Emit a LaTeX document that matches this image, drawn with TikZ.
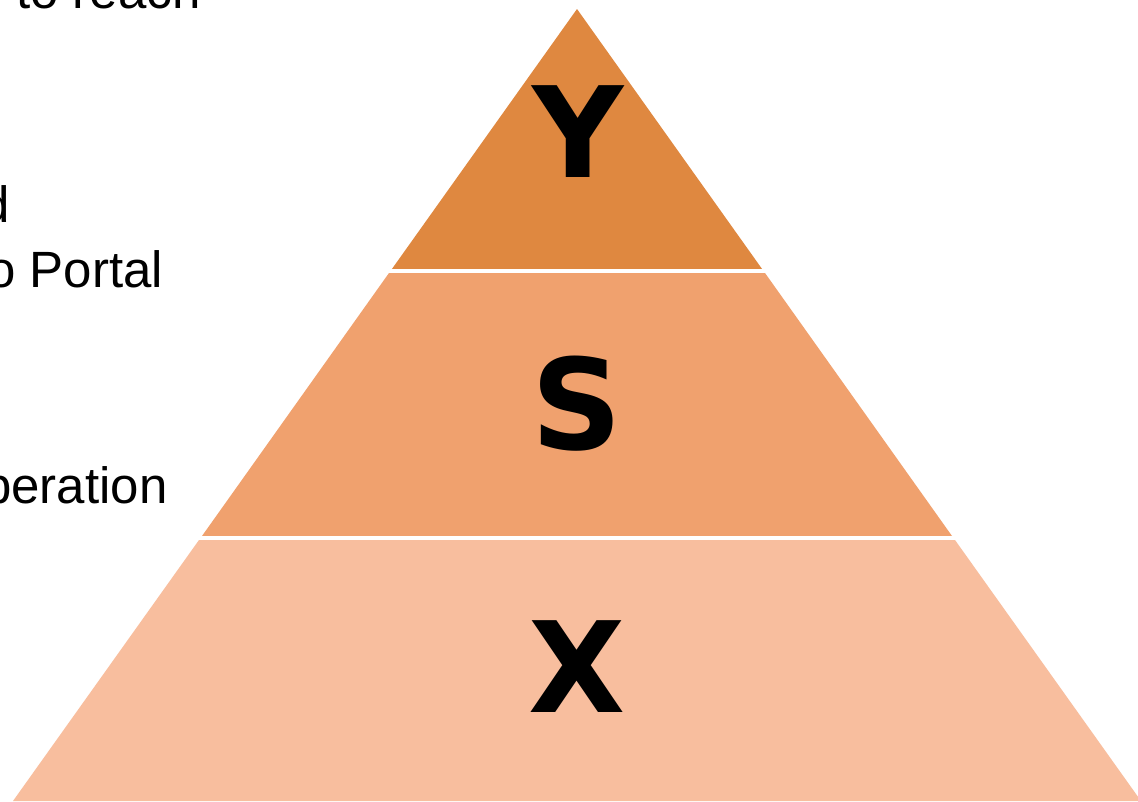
\documentclass[tikz,border=0pt]{standalone}
\usepackage{fontspec}
\setmainfont{Liberation Sans}
\newfontfamily\letterfont{DejaVu Sans}
\definecolor{topband}{HTML}{DF8840}
\definecolor{midband}{HTML}{F0A16E}
\definecolor{lowband}{HTML}{F8BE9E}
\tikzset{
  sidetext/.style={anchor=base west, inner sep=0pt, font=\fontsize{51}{61}\selectfont},
  levelletter/.style={anchor=base, inner sep=0pt, font=\letterfont\bfseries\fontsize{126}{130}\selectfont},
}
\begin{document}
\begin{tikzpicture}[x=1pt,y=-1pt]
\useasboundingbox (0,0) rectangle (1138,801);
\clip (0,0) rectangle (1138,801);
\fill[white] (0,0) rectangle (1138,801);
% pyramid bands
\fill[topband] (577,9) -- (763.5,271) -- (390.5,271) -- cycle;
\fill[midband] (389,273) -- (765,273) -- (952,536) -- (202,536) -- cycle;
\fill[lowband] (199,540) -- (955,540) -- (1141,801) -- (13,801) -- cycle;
\draw[white, line width=3.5pt] (380,271) -- (775,271);
\draw[white, line width=3.5pt] (190,538) -- (965,538);
% letters
\node[levelletter] (y) at (578,177) {Y};
\node[levelletter] (s) at (577,449) {S};
\node[levelletter] (x) at (577,712) {X};
% side texts (cut off at left edge)
\node[sidetext] (t1) at (16,8) {to reach};
\node[sidetext] (t2) at (-19,222) {d};
\node[sidetext] (t3) at (-13,287) {o Portal};
\node[sidetext] (t4) at (-17,503) {peration};
\end{tikzpicture}
\end{document}
